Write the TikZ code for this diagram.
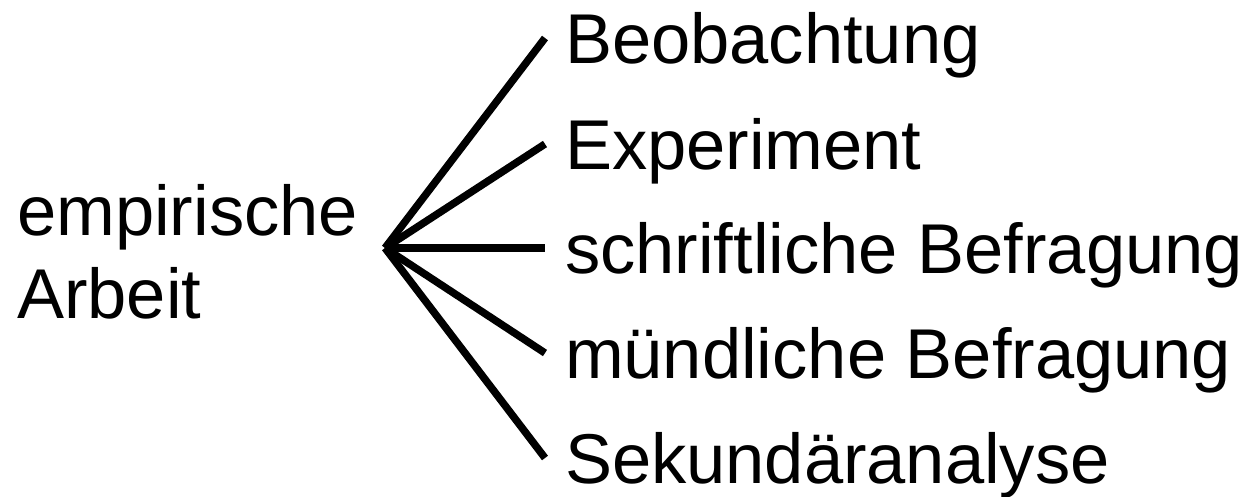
\documentclass[tikz,border=0pt]{standalone}
\usepackage{fontspec}
\setmainfont{Liberation Sans}
\usepackage{tikz}

\begin{document}
\begin{tikzpicture}[x=1pt, y=-1pt,
    every node/.style={font=\fontsize{70.5}{83}\selectfont},
    branch/.style={anchor=base west, inner sep=0pt, outer xsep=20pt, text height=50pt, text depth=0pt},
    twig/.style={line width=7.5pt}]
  \useasboundingbox (0,0) rectangle (1249,496);

  % Root
  \node[anchor=base west, inner sep=0pt, align=left] (root) at (17,318) {empirische\\Arbeit};
  \coordinate (hub) at (385,248);

  % Methods
  \node[branch] (beob) at (545,63) {Beobachtung};
  \node[branch] (expe) at (545,169) {Experiment};
  \node[branch] (schr) at (545,273) {schriftliche Befragung};
  \node[branch] (muen) at (545,378) {mündliche Befragung};
  \node[branch] (seku) at (545,483) {Sekundäranalyse};

  % Branches
  \foreach \m in {beob,expe,schr,muen,seku}
    \draw[twig] (hub) -- (\m.west);
\end{tikzpicture}
\end{document}
